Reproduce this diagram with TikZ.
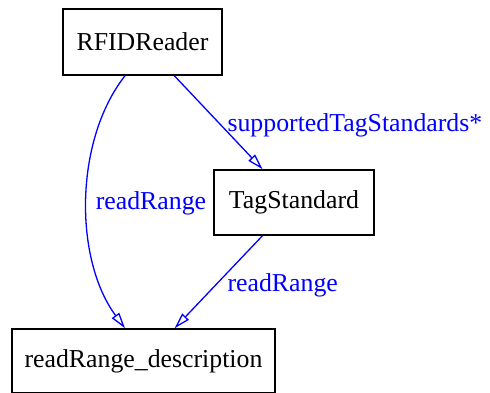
\documentclass[tikz,border=0pt]{standalone}
\usepackage{fontspec}
\setmainfont{Liberation Serif}
\usetikzlibrary{arrows.meta}
\begin{document}
\begin{tikzpicture}[
    x=0.5pt, y=-0.5pt,
    font=\fontsize{12.9}{15}\selectfont,
    box/.style={rectangle, draw, line width=0.75pt, inner sep=0pt},
    link/.style={draw=blue, line width=0.65pt, -{Triangle[open, length=8pt, width=4.5pt]}},
    lbl/.style={text=blue, anchor=west, inner sep=4.2pt, yshift=-1.5pt}
]
    \useasboundingbox (0,0) rectangle (490,392);
    % Nodes
    \node[box, minimum width=79.5pt, minimum height=33pt] (reader) at (142.5,42) {RFIDReader};
    \node[box, minimum width=80pt, minimum height=32.5pt] (tagstd) at (294,202.5) {TagStandard};
    \node[box, minimum width=131.5pt, minimum height=32pt] (rangedesc) at (143.5,361) {readRange\_description};
    
    % Arrows
    \draw[link] (reader) -- node[lbl, midway] {supportedTagStandards*} (tagstd);
    \draw[link] ([xshift=-8.75pt]reader.south) .. controls +(-25.5pt,-32.5pt) and +(-25.5pt,34.5pt) .. node[lbl, midway] {readRange} ([xshift=-9.25pt]rangedesc.north);
    \draw[link] (tagstd) -- node[lbl, midway] {readRange} (rangedesc);
\end{tikzpicture}
\end{document}
